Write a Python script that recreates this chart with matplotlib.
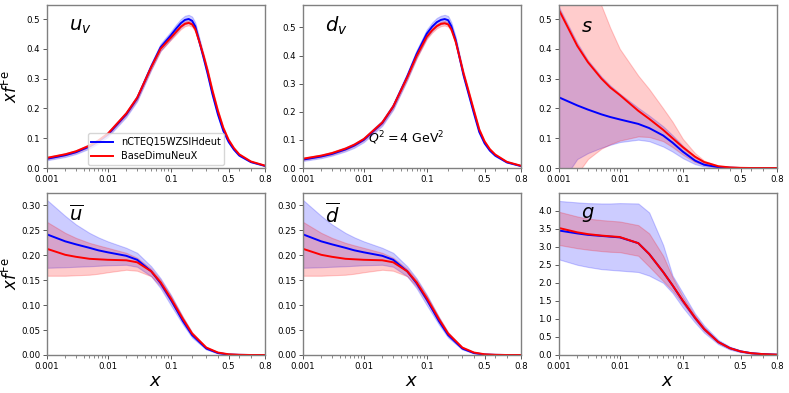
#!/usr/bin/env python3
"""Nuclear PDFs of iron at Q^2 = 4 GeV^2, two fits compared."""

import matplotlib
matplotlib.use("Agg")
import matplotlib.pyplot as plt
from matplotlib.ticker import NullFormatter

# x grids
x_val = [0.001, 0.002, 0.003, 0.005, 0.007, 0.01, 0.02, 0.03, 0.05, 0.07, 0.1, 0.12, 0.14,
         0.16, 0.18, 0.2, 0.22, 0.25, 0.28, 0.31, 0.35, 0.4, 0.45, 0.5, 0.55, 0.6, 0.7, 0.8]
x_sea = [0.001, 0.002, 0.003, 0.005, 0.007, 0.01, 0.02, 0.03, 0.05, 0.07, 0.1,
         0.15, 0.2, 0.3, 0.4, 0.5, 0.6, 0.7, 0.8]

# u_v
uv_blue = [0.031, 0.043, 0.053, 0.072, 0.089, 0.112, 0.180, 0.234, 0.340, 0.405, 0.445, 0.468, 0.486,
           0.497, 0.500, 0.494, 0.475, 0.420, 0.368, 0.318, 0.250, 0.180, 0.125, 0.088, 0.062, 0.042,
           0.020, 0.007]
uv_blue_hi = [0.036, 0.049, 0.059, 0.079, 0.096, 0.120, 0.189, 0.244, 0.351, 0.417, 0.458, 0.482, 0.500,
              0.511, 0.514, 0.508, 0.488, 0.432, 0.378, 0.327, 0.257, 0.185, 0.129, 0.091, 0.064, 0.044,
              0.021, 0.008]
uv_blue_lo = [0.026, 0.037, 0.047, 0.065, 0.082, 0.104, 0.171, 0.224, 0.329, 0.393, 0.432, 0.454, 0.472,
              0.483, 0.486, 0.480, 0.462, 0.408, 0.358, 0.309, 0.243, 0.175, 0.121, 0.085, 0.060, 0.040,
              0.019, 0.006]
uv_red = [0.034, 0.046, 0.056, 0.075, 0.092, 0.115, 0.183, 0.236, 0.338, 0.400, 0.437, 0.457, 0.474,
          0.484, 0.487, 0.482, 0.466, 0.420, 0.375, 0.328, 0.262, 0.192, 0.135, 0.095, 0.067, 0.046,
          0.022, 0.008]
uv_red_hi = [0.038, 0.050, 0.060, 0.080, 0.097, 0.120, 0.189, 0.243, 0.345, 0.407, 0.444, 0.465, 0.482,
             0.492, 0.495, 0.490, 0.474, 0.427, 0.381, 0.334, 0.267, 0.196, 0.138, 0.097, 0.069, 0.047,
             0.023, 0.008]
uv_red_lo = [0.030, 0.042, 0.052, 0.070, 0.087, 0.110, 0.177, 0.229, 0.331, 0.393, 0.430, 0.449, 0.466,
             0.476, 0.479, 0.474, 0.458, 0.413, 0.369, 0.322, 0.257, 0.188, 0.132, 0.093, 0.065, 0.045,
             0.021, 0.007]

# d_v
dv_blue = [0.030, 0.041, 0.050, 0.066, 0.080, 0.100, 0.160, 0.218, 0.325, 0.405, 0.478, 0.503, 0.519,
           0.527, 0.530, 0.526, 0.505, 0.455, 0.390, 0.330, 0.268, 0.195, 0.128, 0.088, 0.062, 0.044,
           0.020, 0.007]
dv_blue_hi = [0.035, 0.047, 0.056, 0.073, 0.088, 0.108, 0.170, 0.229, 0.338, 0.419, 0.493, 0.518, 0.534,
              0.542, 0.545, 0.541, 0.519, 0.467, 0.400, 0.339, 0.275, 0.200, 0.132, 0.091, 0.064, 0.046,
              0.021, 0.008]
dv_blue_lo = [0.025, 0.035, 0.044, 0.059, 0.072, 0.092, 0.150, 0.207, 0.312, 0.391, 0.463, 0.488, 0.504,
              0.512, 0.515, 0.511, 0.491, 0.443, 0.380, 0.321, 0.261, 0.190, 0.124, 0.085, 0.060, 0.042,
              0.019, 0.006]
dv_red = [0.033, 0.044, 0.053, 0.069, 0.083, 0.103, 0.162, 0.219, 0.322, 0.398, 0.467, 0.490, 0.505,
          0.513, 0.515, 0.511, 0.494, 0.449, 0.392, 0.337, 0.277, 0.205, 0.137, 0.095, 0.067, 0.048,
          0.022, 0.008]
dv_red_hi = [0.037, 0.048, 0.058, 0.074, 0.088, 0.108, 0.168, 0.226, 0.329, 0.406, 0.475, 0.498, 0.513,
             0.521, 0.523, 0.519, 0.502, 0.456, 0.398, 0.343, 0.282, 0.209, 0.140, 0.097, 0.069, 0.049,
             0.023, 0.008]
dv_red_lo = [0.029, 0.040, 0.048, 0.064, 0.078, 0.098, 0.156, 0.212, 0.315, 0.390, 0.459, 0.482, 0.497,
             0.505, 0.507, 0.503, 0.486, 0.442, 0.386, 0.331, 0.272, 0.201, 0.134, 0.093, 0.065, 0.047,
             0.021, 0.007]

# s
s_blue = [0.237, 0.210, 0.196, 0.180, 0.171, 0.163, 0.148, 0.134, 0.109, 0.085, 0.055,
          0.025, 0.011, 0.003, 0.001, 0.0, 0.0, 0.0, 0.0]
s_blue_hi = [0.540, 0.420, 0.362, 0.307, 0.277, 0.250, 0.202, 0.176, 0.140, 0.110, 0.075,
             0.038, 0.018, 0.005, 0.001, 0.0, 0.0, 0.0, 0.0]
s_blue_lo = [-0.060, 0.030, 0.050, 0.068, 0.078, 0.087, 0.095, 0.090, 0.072, 0.055, 0.033,
             0.013, 0.005, 0.001, 0.0, 0.0, 0.0, 0.0, 0.0]
s_red = [0.530, 0.410, 0.355, 0.300, 0.270, 0.245, 0.192, 0.165, 0.128, 0.100, 0.070,
         0.038, 0.020, 0.006, 0.002, 0.0005, 0.0, 0.0, 0.0]
s_red_hi = [1.000, 0.780, 0.660, 0.545, 0.470, 0.400, 0.310, 0.265, 0.200, 0.155, 0.098,
            0.050, 0.025, 0.008, 0.003, 0.001, 0.0, 0.0, 0.0]
s_red_lo = [-0.200, -0.020, 0.030, 0.065, 0.080, 0.092, 0.106, 0.104, 0.090, 0.070, 0.045,
            0.020, 0.010, 0.003, 0.0, 0.0, 0.0, 0.0, 0.0]

# ubar
ub_blue = [0.242, 0.228, 0.222, 0.215, 0.210, 0.206, 0.199, 0.191, 0.168, 0.144, 0.111,
           0.068, 0.040, 0.013, 0.004, 0.001, 0.0003, 0.0, 0.0]
ub_blue_hi = [0.311, 0.279, 0.262, 0.245, 0.236, 0.228, 0.215, 0.205, 0.178, 0.154, 0.121,
              0.076, 0.045, 0.015, 0.005, 0.0015, 0.0004, 0.0, 0.0]
ub_blue_lo = [0.175, 0.176, 0.177, 0.178, 0.179, 0.180, 0.181, 0.177, 0.158, 0.134, 0.100,
              0.061, 0.035, 0.011, 0.003, 0.001, 0.0002, 0.0, 0.0]
ub_red = [0.213, 0.201, 0.197, 0.193, 0.192, 0.191, 0.190, 0.186, 0.168, 0.146, 0.114,
          0.072, 0.043, 0.015, 0.005, 0.0015, 0.0004, 0.0, 0.0]
ub_red_hi = [0.267, 0.245, 0.235, 0.225, 0.220, 0.215, 0.205, 0.195, 0.173, 0.151, 0.119,
             0.076, 0.046, 0.016, 0.0055, 0.0017, 0.0005, 0.0, 0.0]
ub_red_lo = [0.159, 0.159, 0.160, 0.161, 0.163, 0.166, 0.171, 0.169, 0.158, 0.138, 0.107,
             0.067, 0.040, 0.013, 0.004, 0.0012, 0.0003, 0.0, 0.0]

# dbar: same as ubar within reading accuracy
db_blue, db_blue_hi, db_blue_lo = ub_blue, ub_blue_hi, ub_blue_lo
db_red, db_red_hi, db_red_lo = ub_red, ub_red_hi, ub_red_lo

# g
g_blue = [3.45, 3.37, 3.33, 3.30, 3.28, 3.26, 3.10, 2.80, 2.30, 1.93, 1.50,
          1.03, 0.72, 0.36, 0.19, 0.10, 0.05, 0.025, 0.01]
g_blue_hi = [4.27, 4.23, 4.21, 4.20, 4.20, 4.21, 4.20, 3.95, 3.05, 2.20, 1.72,
             1.15, 0.82, 0.42, 0.23, 0.13, 0.07, 0.035, 0.015]
g_blue_lo = [2.65, 2.50, 2.44, 2.38, 2.36, 2.34, 2.30, 2.20, 2.00, 1.72, 1.32,
             0.90, 0.62, 0.30, 0.15, 0.075, 0.035, 0.015, 0.005]
g_red = [3.52, 3.40, 3.35, 3.31, 3.29, 3.27, 3.10, 2.80, 2.30, 1.93, 1.51,
         1.04, 0.72, 0.36, 0.19, 0.10, 0.05, 0.025, 0.01]
g_red_hi = [3.97, 3.84, 3.78, 3.74, 3.72, 3.70, 3.60, 3.37, 2.75, 2.15, 1.62,
            1.10, 0.77, 0.38, 0.20, 0.105, 0.052, 0.026, 0.011]
g_red_lo = [3.05, 2.96, 2.92, 2.88, 2.86, 2.85, 2.75, 2.45, 2.05, 1.78, 1.42,
            0.97, 0.67, 0.33, 0.17, 0.09, 0.045, 0.022, 0.008]

labels = ['nCTEQ15WZSIHdeut', 'BaseDimuNeuX']
xticks = [0.001, 0.01, 0.1, 0.5, 0.8]
xticklabels = ['0.001', '0.01', '0.1', '0.5', '0.8']

panels = [
    (r'$u_v$', x_val, (uv_blue, uv_blue_lo, uv_blue_hi), (uv_red, uv_red_lo, uv_red_hi), 0.547,
     [0, 0.1, 0.2, 0.3, 0.4, 0.5], '%.1f'),
    (r'$d_v$', x_val, (dv_blue, dv_blue_lo, dv_blue_hi), (dv_red, dv_red_lo, dv_red_hi), 0.58,
     [0, 0.1, 0.2, 0.3, 0.4, 0.5], '%.1f'),
    (r'$s$', x_sea, (s_blue, s_blue_lo, s_blue_hi), (s_red, s_red_lo, s_red_hi), 0.547,
     [0, 0.1, 0.2, 0.3, 0.4, 0.5], '%.1f'),
    (r'$\overline{u}$', x_sea, (ub_blue, ub_blue_lo, ub_blue_hi), (ub_red, ub_red_lo, ub_red_hi), 0.325,
     [0, 0.05, 0.1, 0.15, 0.2, 0.25, 0.3], '%.2f'),
    (r'$\overline{d}$', x_sea, (db_blue, db_blue_lo, db_blue_hi), (db_red, db_red_lo, db_red_hi), 0.325,
     [0, 0.05, 0.1, 0.15, 0.2, 0.25, 0.3], '%.2f'),
    (r'$g$', x_sea, (g_blue, g_blue_lo, g_blue_hi), (g_red, g_red_lo, g_red_hi), 4.49,
     [0, 0.5, 1, 1.5, 2, 2.5, 3, 3.5, 4], '%.1f'),
]

fig = plt.figure(figsize=(7.89, 3.93), dpi=100)
W, H = 789.0, 393.0
lefts = [47, 303, 559]
rows = [(5, 168), (193, 355)]

for i, (name, xs, blue, red, ytop, yticks, fmt) in enumerate(panels):
    r, c = divmod(i, 3)
    top, bot = rows[r]
    ax = fig.add_axes([lefts[c] / W, 1 - bot / H, 218 / W, (bot - top) / H])

    ax.fill_between(xs, blue[1], blue[2], color='b', alpha=0.2, lw=0.8)
    ax.fill_between(xs, red[1], red[2], color='r', alpha=0.2, lw=0.8)
    ax.plot(xs, blue[0], color='b', lw=1.4, label=labels[0])
    ax.plot(xs, red[0], color='r', lw=1.4, label=labels[1])

    ax.set_xscale('logit')
    ax.set_xlim(0.001, 0.8)
    ax.set_ylim(0, ytop)
    ax.set_xticks(xticks, labels=xticklabels)
    ax.xaxis.set_minor_formatter(NullFormatter())
    ax.set_yticks(yticks, labels=[fmt % v for v in yticks])
    ax.tick_params(labelsize=6.2, length=3, width=0.7, pad=2, colors='0.35', labelcolor='black')
    ax.tick_params(which='minor', length=1.8, width=0.5, colors='0.35')
    for sp in ax.spines.values():
        sp.set_color('0.5')
        sp.set_linewidth(1.0)

    ax.text(0.1, 0.87, name, transform=ax.transAxes, fontsize=14, ha='left', va='center')

    if c == 0:
        ax.set_ylabel(r'$xf^{\rm Fe}$', fontsize=12)
        ax.yaxis.set_label_coords(-0.118, 0.5)
    if r == 1:
        ax.set_xlabel(r'$x$', fontsize=13, labelpad=1)
    if i == 0:
        ax.legend(loc='lower center', fontsize=7, handlelength=2.2, borderpad=0.4,
                  labelspacing=0.4, borderaxespad=0.3)
    if i == 1:
        ax.text(0.3, 0.18, r'$Q^2 = 4$ GeV$^2$', transform=ax.transAxes, fontsize=9,
                ha='left', va='center')

fig.savefig('out.png', dpi=100)
